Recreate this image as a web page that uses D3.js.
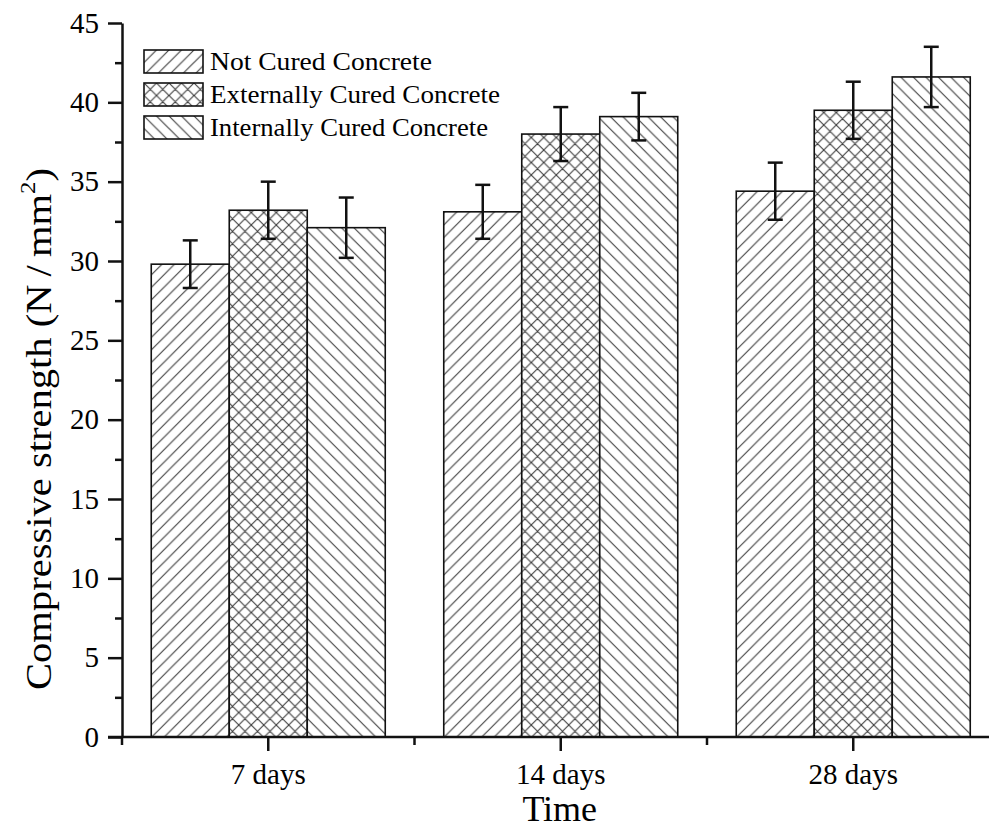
<!DOCTYPE html>
<html>
<head>
<meta charset="utf-8">
<script src="https://cdn.jsdelivr.net/npm/d3@7"></script>
<style>
    body { margin: 0; background: #fff; }
    svg.vis { display: block; font-family: "Liberation Serif", "Times New Roman", serif; }
</style>
</head>
<body>
<div class="vis-container"><svg class="vis"></svg></div>
<script>

// values
const categories = ["7 days", "14 days", "28 days"];
const series = ["Not Cured Concrete", "Externally Cured Concrete", "Internally Cured Concrete"];

const not_cured      = [29.8, 33.1, 34.4];
const externally     = [33.2, 38.0, 39.5];
const internally     = [32.1, 39.1, 41.6];

const not_cured_err  = [1.5, 1.7, 1.8];
const externally_err = [1.8, 1.7, 1.8];
const internally_err = [1.9, 1.5, 1.9];

const y_ticks = [0, 5, 10, 15, 20, 25, 30, 35, 40, 45];
const y_minor = [2.5, 7.5, 12.5, 17.5, 22.5, 27.5, 32.5, 37.5, 42.5];

const vis = {

    refs: {
        svg: "svg.vis"
    },

    sels: {
        svg: null
    },

    dims: {
        w: 989,
        h: 829,
        margins: { top: 23, left: 122, bottom: 92 }, // right side runs past the window
        plot_right: 999.5
    },

    scales: {},

    f: {

        generates_refs: function() {
            vis.sels.svg = d3.select(vis.refs.svg)
                .attr("width", vis.dims.w)
                .attr("height", vis.dims.h);
        },

        build_data: function() {
            const vals = [not_cured, externally, internally];
            const errs = [not_cured_err, externally_err, internally_err];
            return categories.map((c, i) => ({
                cat: c,
                bars: series.map((s, j) => ({ series: s, idx: j, v: vals[j][i], e: errs[j][i] }))
            }));
        },

        set_scales: function() {
            const m = vis.dims.margins;
            vis.scales.x = d3.scaleBand()
                .domain(categories)
                .range([m.left, vis.dims.plot_right])
                .paddingInner(0.2)
                .paddingOuter(0.1);
            vis.scales.xs = d3.scaleBand()
                .domain(series)
                .range([0, vis.scales.x.bandwidth()]);
            vis.scales.y = d3.scaleLinear()
                .domain([0, 45])
                .range([vis.dims.h - m.bottom, m.top]);
        }

    },

    draw: {

        patterns: function() {
            const defs = vis.sels.svg.append("defs");
            const s = 12.5;
            const col = "#3a3a3a", lw = 1.1;

            const fwd = defs.append("pattern").attr("id", "p0")
                .attr("patternUnits", "userSpaceOnUse").attr("width", s).attr("height", s);
            fwd.append("path").attr("d", `M0,${s} L${s},0 M${-s/2},${s/2} L${s/2},${-s/2} M${s/2},${s*1.5} L${s*1.5},${s/2}`)
                .attr("stroke", col).attr("stroke-width", lw);

            const cross = defs.append("pattern").attr("id", "p1")
                .attr("patternUnits", "userSpaceOnUse").attr("width", s).attr("height", s);
            cross.append("path").attr("d", `M0,${s} L${s},0 M${-s/2},${s/2} L${s/2},${-s/2} M${s/2},${s*1.5} L${s*1.5},${s/2} M0,0 L${s},${s} M${-s/2},${s/2} L${s/2},${s*1.5} M${s/2},${-s/2} L${s*1.5},${s/2}`)
                .attr("stroke", col).attr("stroke-width", lw);

            const back = defs.append("pattern").attr("id", "p2")
                .attr("patternUnits", "userSpaceOnUse").attr("width", s).attr("height", s);
            back.append("path").attr("d", `M0,0 L${s},${s} M${-s/2},${s/2} L${s/2},${s*1.5} M${s/2},${-s/2} L${s*1.5},${s/2}`)
                .attr("stroke", col).attr("stroke-width", lw);
        },

        bars: function(data) {
            const x = vis.scales.x, xs = vis.scales.xs, y = vis.scales.y;

            const groups = vis.sels.svg.append("g")
                .selectAll("g")
                .data(data)
                .join("g")
                .attr("transform", d => `translate(${x(d.cat)},0)`);

            const bar = groups.selectAll("g.bar")
                .data(d => d.bars)
                .join("g")
                .attr("class", "bar");

            bar.append("rect")
                .attr("x", d => xs(d.series))
                .attr("y", d => y(d.v))
                .attr("width", xs.bandwidth())
                .attr("height", d => y(0) - y(d.v))
                .attr("fill", "#fff");

            bar.append("rect")
                .attr("x", d => xs(d.series))
                .attr("y", d => y(d.v))
                .attr("width", xs.bandwidth())
                .attr("height", d => y(0) - y(d.v))
                .attr("fill", d => `url(#p${d.idx})`)
                .attr("stroke", "#111")
                .attr("stroke-width", 1.6);

            // error bars
            const cap = 7.5;
            const err = bar.append("g")
                .attr("stroke", "#000")
                .attr("stroke-width", 2)
                .attr("transform", d => `translate(${xs(d.series) + xs.bandwidth() / 2},0)`);

            err.append("line")
                .attr("y1", d => y(d.v - d.e))
                .attr("y2", d => y(d.v + d.e));
            err.append("line")
                .attr("x1", -cap).attr("x2", cap)
                .attr("y1", d => y(d.v + d.e)).attr("y2", d => y(d.v + d.e));
            err.append("line")
                .attr("x1", -cap).attr("x2", cap)
                .attr("y1", d => y(d.v - d.e)).attr("y2", d => y(d.v - d.e));
        },

        axes: function() {
            const x = vis.scales.x, y = vis.scales.y, m = vis.dims.margins;
            const svg = vis.sels.svg;
            const y0 = y(0);

            // y axis, major ticks with labels
            const ya = svg.append("g")
                .attr("transform", `translate(${m.left},0)`)
                .call(d3.axisLeft(y).tickValues(y_ticks).tickSize(14).tickPadding(9).tickSizeOuter(0));
            ya.attr("font-family", null);
            ya.selectAll(".tick text").attr("font-size", 29).attr("fill", "#000");

            // minor y ticks
            const ym = svg.append("g")
                .attr("transform", `translate(${m.left},0)`)
                .call(d3.axisLeft(y).tickValues(y_minor).tickSize(7).tickFormat(""));
            ym.select(".domain").remove();

            // x axis with category ticks
            const xa = svg.append("g")
                .attr("transform", `translate(0,${y0})`)
                .call(d3.axisBottom(x).tickSize(14).tickPadding(12).tickSizeOuter(0));
            xa.attr("font-family", null);
            xa.selectAll(".tick text").attr("font-size", 29).attr("fill", "#000");
            xa.select(".domain").attr("d", `M${m.left - 14},0H${vis.dims.plot_right}`);

            // minor x ticks at band edges
            const step = x.step();
            const edges = categories.map(c => x(c) + x.bandwidth() / 2 - step / 2)
                .concat([x(categories[categories.length - 1]) + x.bandwidth() / 2 + step / 2]);
            svg.append("g").selectAll("line")
                .data(edges)
                .join("line")
                .attr("x1", d => d).attr("x2", d => d)
                .attr("y1", y0).attr("y2", y0 + 8);

            // top frame line
            svg.append("line")
                .attr("x1", m.left - 14).attr("x2", vis.dims.plot_right)
                .attr("y1", y(45)).attr("y2", y(45));

            svg.selectAll(".domain, .tick line, g > line")
                .attr("stroke", "#111")
                .attr("stroke-width", 2.5);

            // axis titles
            svg.append("text")
                .attr("x", (m.left + vis.dims.plot_right) / 2 - 1)
                .attr("y", 821)
                .attr("text-anchor", "middle")
                .attr("font-size", 36)
                .text("Time");

            const yl = svg.append("text")
                .attr("transform", `translate(51,${(y(0) + y(45)) / 2 + 49}) rotate(-90)`)
                .attr("text-anchor", "middle")
                .attr("font-size", 36)
                .attr("textLength", 522)
                .attr("lengthAdjust", "spacingAndGlyphs");
            yl.append("tspan").text("Compressive strength (N\u2009/\u2009mm");
            yl.append("tspan").attr("dy", -16).attr("font-size", 22).text("2");
            yl.append("tspan").attr("dy", 16).text(")");
        },

        legend: function() {
            const lg = vis.sels.svg.append("g")
                .attr("transform", "translate(144,50)");
            const widths = [222, 290, 278];

            const item = lg.selectAll("g")
                .data(series)
                .join("g")
                .attr("transform", (d, i) => `translate(0,${i * 33})`);

            item.append("rect")
                .attr("width", 59).attr("height", 23)
                .attr("fill", "#fff");
            item.append("rect")
                .attr("width", 59).attr("height", 23)
                .attr("fill", (d, i) => `url(#p${i})`)
                .attr("stroke", "#111")
                .attr("stroke-width", 1.6);

            item.append("text")
                .attr("x", 66)
                .attr("y", 20)
                .attr("font-size", 25)
                .attr("textLength", (d, i) => widths[i])
                .attr("lengthAdjust", "spacingAndGlyphs")
                .text(d => d);
        }

    },

    control: {

        init: function() {
            vis.f.generates_refs();
            vis.f.set_scales();
            const data = vis.f.build_data();
            vis.draw.patterns();
            vis.draw.bars(data);
            vis.draw.axes();
            vis.draw.legend();
        }

    }

};

vis.control.init();
</script>
</body>
</html>
